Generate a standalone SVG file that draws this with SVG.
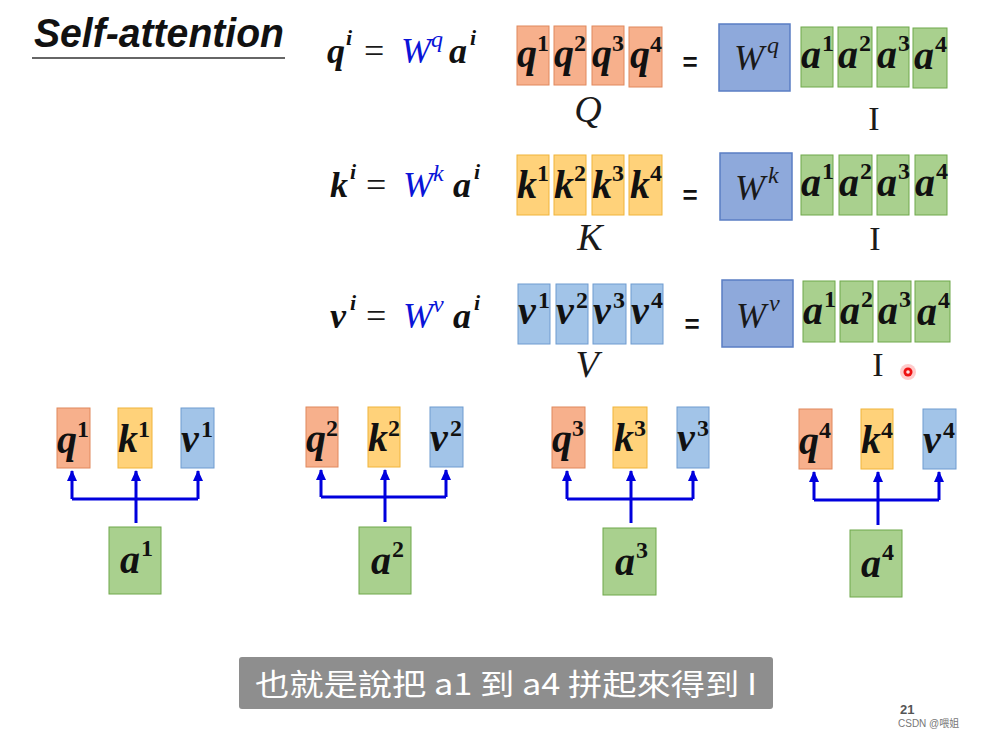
<svg xmlns="http://www.w3.org/2000/svg" width="982" height="737" viewBox="0 0 982 737">
<defs>
<style>
.bi{font-family:"Liberation Serif","DejaVu Serif",serif;font-weight:bold;font-style:italic;fill:#111}
.sup{font-family:"Liberation Serif","DejaVu Serif",serif;font-weight:bold;fill:#111}
.it{font-family:"Liberation Serif","DejaVu Serif",serif;font-style:italic;fill:#1a1a1a}
.rm{font-family:"Liberation Serif","DejaVu Serif",serif;fill:#1a1a1a}
.blue{fill:#0a14d8}
.q{fill:#F7B08C;stroke:#E0885C;stroke-width:1}
.k{fill:#FFD27A;stroke:#F0B43A;stroke-width:1}
.v{fill:#A2C4E8;stroke:#6E9BD0;stroke-width:1}
.a{fill:#A9D08E;stroke:#6FA84A;stroke-width:1}
.w{fill:#8EA9DB;stroke:#5A7EC4;stroke-width:1.5}
.bl{font-size:40px}
.bs{font-size:24px}
.eqs{font-family:"Liberation Sans",Arial,sans-serif;font-weight:bold;font-size:26px;fill:#111}
.conn{fill:none;stroke:#0000DD;stroke-width:3}
</style>
<marker id="ah" markerUnits="userSpaceOnUse" markerWidth="12" markerHeight="12" viewBox="0 0 12 12" refX="10" refY="6" orient="auto">
<path d="M0,1 L11,6 L0,11 Z" fill="#0000DD"/>
</marker>
</defs>
<rect width="982" height="737" fill="#ffffff"/>

<g id="title">
<text x="34" y="47" font-family="'Liberation Sans',Arial,sans-serif" font-weight="bold" font-style="italic" font-size="40" fill="#111" textLength="250" lengthAdjust="spacingAndGlyphs">Self-attention</text>
<line x1="32" y1="58" x2="285" y2="58" stroke="#333" stroke-width="1.5"/>
</g>

<!-- Row 1 -->
<g id="eq-q">
<text class="bi" x="327" y="63" font-size="36">q</text><text class="sup" x="346" y="45" font-size="22" font-style="italic">i</text>
<text class="rm" x="364" y="63" font-size="36">=</text>
<text class="it blue" x="401" y="63" font-size="36">W</text><text class="it blue" x="431" y="47" font-size="24">q</text>
<text class="bi" x="449" y="63" font-size="36">a</text><text class="sup" x="470" y="45" font-size="22" font-style="italic">i</text>
</g>
<g id="Q">
<rect class="q" x="517" y="26" width="32" height="59"/><rect class="q" x="554" y="26" width="32" height="59"/><rect class="q" x="592" y="26" width="32" height="59"/><rect class="q" x="629" y="27" width="33" height="60"/>
<text class="bi bl" x="517" y="67">q</text><text class="sup bs" x="537" y="51">1</text>
<text class="bi bl" x="554" y="67">q</text><text class="sup bs" x="574" y="51">2</text>
<text class="bi bl" x="592" y="67">q</text><text class="sup bs" x="612" y="51">3</text>
<text class="bi bl" x="630" y="68">q</text><text class="sup bs" x="650" y="52">4</text>
<text class="it" x="588" y="122" font-size="38" text-anchor="middle">Q</text>
</g>
<text class="eqs" x="690" y="71" text-anchor="middle">=</text>
<g id="Wq">
<rect class="w" x="719" y="24" width="71" height="67"/>
<text class="it" x="734" y="70" font-size="36">W</text><text class="it" x="767" y="53" font-size="24">q</text>
</g>
<g id="I1">
<rect class="a" x="801" y="27" width="32" height="60"/><rect class="a" x="838" y="27" width="34" height="60"/><rect class="a" x="877" y="27" width="32" height="60"/><rect class="a" x="913" y="28" width="34" height="60"/>
<text class="bi bl" x="801" y="68">a</text><text class="sup bs" x="822" y="51">1</text>
<text class="bi bl" x="838" y="68">a</text><text class="sup bs" x="859" y="51">2</text>
<text class="bi bl" x="877" y="68">a</text><text class="sup bs" x="898" y="51">3</text>
<text class="bi bl" x="914" y="69">a</text><text class="sup bs" x="935" y="52">4</text>
<text class="rm" x="874" y="130" font-size="34" text-anchor="middle">I</text>
</g>

<!-- Row 2 -->
<g id="eq-k">
<text class="bi" x="330" y="197" font-size="36">k</text><text class="sup" x="350" y="179" font-size="22" font-style="italic">i</text>
<text class="rm" x="366" y="197" font-size="36">=</text>
<text class="it blue" x="403" y="197" font-size="36">W</text><text class="it blue" x="433" y="181" font-size="24">k</text>
<text class="bi" x="453" y="197" font-size="36">a</text><text class="sup" x="474" y="179" font-size="22" font-style="italic">i</text>
</g>
<g id="K">
<rect class="k" x="517" y="155" width="32" height="60"/><rect class="k" x="554" y="155" width="32" height="60"/><rect class="k" x="592" y="155" width="32" height="60"/><rect class="k" x="629" y="155" width="33" height="60"/>
<text class="bi bl" x="517" y="198">k</text><text class="sup bs" x="537" y="181">1</text>
<text class="bi bl" x="554" y="198">k</text><text class="sup bs" x="574" y="181">2</text>
<text class="bi bl" x="592" y="198">k</text><text class="sup bs" x="612" y="181">3</text>
<text class="bi bl" x="630" y="198">k</text><text class="sup bs" x="650" y="181">4</text>
<text class="it" x="590" y="250" font-size="38" text-anchor="middle">K</text>
</g>
<text class="eqs" x="690" y="204" text-anchor="middle">=</text>
<g id="Wk">
<rect class="w" x="720" y="153" width="72" height="67"/>
<text class="it" x="735" y="200" font-size="36">W</text><text class="it" x="768" y="183" font-size="24">k</text>
</g>
<g id="I2">
<rect class="a" x="801" y="155" width="32" height="60"/><rect class="a" x="839" y="155" width="33" height="60"/><rect class="a" x="877" y="155" width="32" height="60"/><rect class="a" x="915" y="155" width="32" height="60"/>
<text class="bi bl" x="801" y="196">a</text><text class="sup bs" x="822" y="179">1</text>
<text class="bi bl" x="839" y="196">a</text><text class="sup bs" x="860" y="179">2</text>
<text class="bi bl" x="877" y="196">a</text><text class="sup bs" x="898" y="179">3</text>
<text class="bi bl" x="915" y="196">a</text><text class="sup bs" x="936" y="179">4</text>
<text class="rm" x="875" y="250" font-size="34" text-anchor="middle">I</text>
</g>

<!-- Row 3 -->
<g id="eq-v">
<text class="bi" x="330" y="328" font-size="36">v</text><text class="sup" x="350" y="310" font-size="22" font-style="italic">i</text>
<text class="rm" x="366" y="328" font-size="36">=</text>
<text class="it blue" x="403" y="328" font-size="36">W</text><text class="it blue" x="433" y="312" font-size="24">v</text>
<text class="bi" x="453" y="328" font-size="36">a</text><text class="sup" x="474" y="310" font-size="22" font-style="italic">i</text>
</g>
<g id="V">
<rect class="v" x="518" y="284" width="32" height="60"/><rect class="v" x="556" y="284" width="32" height="60"/><rect class="v" x="593" y="284" width="33" height="60"/><rect class="v" x="631" y="284" width="32" height="60"/>
<text class="bi bl" x="518" y="324">v</text><text class="sup bs" x="538" y="308">1</text>
<text class="bi bl" x="556" y="324">v</text><text class="sup bs" x="576" y="308">2</text>
<text class="bi bl" x="593" y="324">v</text><text class="sup bs" x="613" y="308">3</text>
<text class="bi bl" x="631" y="324">v</text><text class="sup bs" x="651" y="308">4</text>
<text class="it" x="587" y="377" font-size="38" text-anchor="middle">V</text>
</g>
<text class="eqs" x="692" y="333" text-anchor="middle">=</text>
<g id="Wv">
<rect class="w" x="722" y="280" width="71" height="67"/>
<text class="it" x="736" y="328" font-size="36">W</text><text class="it" x="769" y="311" font-size="24">v</text>
</g>
<g id="I3">
<rect class="a" x="803" y="281" width="32" height="61"/><rect class="a" x="840" y="281" width="33" height="61"/><rect class="a" x="878" y="281" width="33" height="61"/><rect class="a" x="915" y="281" width="35" height="61"/>
<text class="bi bl" x="803" y="324">a</text><text class="sup bs" x="824" y="307">1</text>
<text class="bi bl" x="840" y="324">a</text><text class="sup bs" x="861" y="307">2</text>
<text class="bi bl" x="878" y="324">a</text><text class="sup bs" x="899" y="307">3</text>
<text class="bi bl" x="917" y="325">a</text><text class="sup bs" x="938" y="308">4</text>
<text class="rm" x="878" y="376" font-size="34" text-anchor="middle">I</text>
</g>
<g id="pointer">
<circle cx="908" cy="372" r="8" fill="#ff6a6a" opacity="0.35"/>
<circle cx="908" cy="372" r="4.5" fill="#ee1111"/>
<circle cx="908" cy="372" r="1.8" fill="#ffdddd"/>
</g>

<!-- Bottom groups -->
<g id="connectors">
<path class="conn" d="M72 499 H198"/>
<path class="conn" d="M72 499 V471" marker-end="url(#ah)"/>
<path class="conn" d="M198 499 V471" marker-end="url(#ah)"/>
<path class="conn" d="M136 523 V471" marker-end="url(#ah)"/>
<path class="conn" d="M321 497 H446"/>
<path class="conn" d="M321 497 V470" marker-end="url(#ah)"/>
<path class="conn" d="M446 497 V470" marker-end="url(#ah)"/>
<path class="conn" d="M385 522 V470" marker-end="url(#ah)"/>
<path class="conn" d="M567 499 H693"/>
<path class="conn" d="M567 499 V471" marker-end="url(#ah)"/>
<path class="conn" d="M693 499 V471" marker-end="url(#ah)"/>
<path class="conn" d="M631 523 V471" marker-end="url(#ah)"/>
<path class="conn" d="M814 500 H939"/>
<path class="conn" d="M814 500 V472" marker-end="url(#ah)"/>
<path class="conn" d="M939 500 V472" marker-end="url(#ah)"/>
<path class="conn" d="M878 525 V472" marker-end="url(#ah)"/>
</g>

<g id="g1">
<rect class="q" x="57" y="408" width="33" height="60"/><text class="bi bl" x="57" y="453">q</text><text class="sup bs" x="77" y="437">1</text>
<rect class="k" x="118" y="408" width="34" height="60"/><text class="bi bl" x="118" y="452">k</text><text class="sup bs" x="138" y="437">1</text>
<rect class="v" x="181" y="408" width="33" height="60"/><text class="bi bl" x="181" y="452">v</text><text class="sup bs" x="201" y="437">1</text>
<rect class="a" x="109" y="527" width="52" height="67"/><text class="bi bl" x="120" y="573">a</text><text class="sup bs" x="141" y="556">1</text>
</g>
<g id="g2">
<rect class="q" x="306" y="407" width="32" height="60"/><text class="bi bl" x="306" y="452">q</text><text class="sup bs" x="326" y="436">2</text>
<rect class="k" x="368" y="407" width="32" height="60"/><text class="bi bl" x="368" y="451">k</text><text class="sup bs" x="388" y="436">2</text>
<rect class="v" x="430" y="407" width="33" height="60"/><text class="bi bl" x="430" y="451">v</text><text class="sup bs" x="450" y="436">2</text>
<rect class="a" x="359" y="527" width="52" height="67"/><text class="bi bl" x="371" y="574">a</text><text class="sup bs" x="392" y="557">2</text>
</g>
<g id="g3">
<rect class="q" x="552" y="407" width="33" height="61"/><text class="bi bl" x="552" y="452">q</text><text class="sup bs" x="572" y="436">3</text>
<rect class="k" x="613" y="407" width="34" height="61"/><text class="bi bl" x="614" y="451">k</text><text class="sup bs" x="634" y="436">3</text>
<rect class="v" x="677" y="407" width="32" height="61"/><text class="bi bl" x="677" y="451">v</text><text class="sup bs" x="697" y="436">3</text>
<rect class="a" x="603" y="528" width="53" height="67"/><text class="bi bl" x="615" y="575">a</text><text class="sup bs" x="636" y="558">3</text>
</g>
<g id="g4">
<rect class="q" x="799" y="409" width="33" height="60"/><text class="bi bl" x="799" y="454">q</text><text class="sup bs" x="819" y="438">4</text>
<rect class="k" x="861" y="409" width="32" height="60"/><text class="bi bl" x="861" y="453">k</text><text class="sup bs" x="881" y="438">4</text>
<rect class="v" x="923" y="409" width="33" height="60"/><text class="bi bl" x="923" y="453">v</text><text class="sup bs" x="943" y="438">4</text>
<rect class="a" x="850" y="530" width="52" height="67"/><text class="bi bl" x="861" y="577">a</text><text class="sup bs" x="882" y="560">4</text>
</g>

<g id="subtitle">
<rect x="239" y="657" width="534" height="52" rx="3" fill="#8E8E8E"/>
<text x="255" y="695" font-family="'Noto Sans CJK TC','Noto Sans',sans-serif" font-size="30" fill="#ffffff" textLength="502" lengthAdjust="spacingAndGlyphs">也就是說把 a1 到 a4 拼起來得到 I</text>
</g>
<g id="footer">
<text x="900" y="714" font-family="'Liberation Sans',Arial,sans-serif" font-weight="bold" font-size="13" fill="#555">21</text>
<text x="898" y="727" font-family="'Liberation Sans','Noto Sans CJK SC',sans-serif" font-size="10" fill="#777">CSDN @喂姐</text>
</g>
</svg>
